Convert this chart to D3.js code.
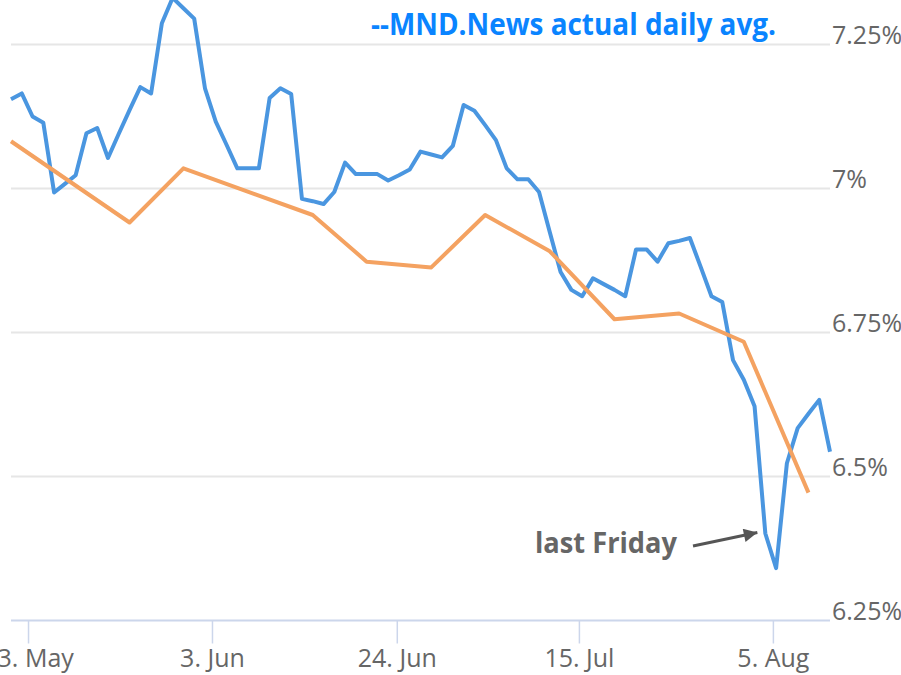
<!DOCTYPE html>
<html>
<head>
<meta charset="utf-8">
<script src="https://cdn.jsdelivr.net/npm/d3@7"></script>
<style>
  body { margin: 0; background: #fff; }
  svg { display: block; }
</style>
</head>
<body>
<div id="chart"></div>
<script>
/* global d3 */
// daily avg (blue), one value per business day, left to right
const dailyRates = [
  7.155, 7.165, 7.125, 7.114, 6.993, 7.008, 7.023, 7.096, 7.105, 7.053,
  7.095, 7.136, 7.176, 7.165, 7.287, 7.331, 7.313, 7.295, 7.174, 7.116,
  7.076, 7.035, 7.035, 7.035, 7.157, 7.174, 7.164, 6.982, 6.978, 6.973,
  6.994, 7.045, 7.025, 7.025, 7.025, 7.014, 7.023, 7.033, 7.064, 7.059,
  7.054, 7.074, 7.145, 7.135, 7.110, 7.084, 7.035, 7.016, 7.016, 6.994,
  6.924, 6.855, 6.824, 6.813, 6.844, 6.834, 6.824, 6.813, 6.894, 6.894,
  6.873, 6.905, 6.909, 6.914, 6.864, 6.813, 6.803, 6.702, 6.668, 6.622,
  6.401, 6.341, 6.523, 6.584, 6.609, 6.633, 6.543
];
// weekly survey (orange): position on the same day index + value
const weeklyIdx = [0, 11, 16, 28, 33, 39, 44, 50, 56, 62, 68, 74];
const weeklyRates = [7.082, 6.941, 7.035, 6.954, 6.873, 6.863, 6.954, 6.891, 6.773, 6.783, 6.734, 6.472];

const xTickIdx = [1.58, 18.65, 35.8, 52.7, 70.7];
const xTickLabels = ["13. May", "3. Jun", "24. Jun", "15. Jul", "5. Aug"];
const yTicks = [6.25, 6.5, 6.75, 7, 7.25];

const titleText = "--MND.News actual daily avg.";
const noteText = "last Friday";
const noteIdx = 70;

let width = 901, height = 675;
let plot = {left: 11, right: 830, top: 44.5, bottom: 620.5};

let svg = d3.select("#chart").append("svg")
  .attr("width", width)
  .attr("height", height);

let x = d3.scaleLinear()
  .domain([0, dailyRates.length - 1])
  .range([plot.left, plot.right]);

let y = d3.scaleLinear()
  .domain([6.25, 7.25])
  .range([plot.bottom, plot.top]);

// gridlines
svg.append("g")
  .selectAll("line")
  .data(yTicks.filter(d => d > 6.25))
  .enter().append("line")
  .attr("x1", plot.left)
  .attr("x2", plot.right)
  .attr("y1", d => y(d))
  .attr("y2", d => y(d))
  .attr("stroke", "#e6e6e6")
  .attr("stroke-width", 2);

// y labels on the right, sitting on the gridline
svg.append("g")
  .selectAll("text")
  .data(yTicks)
  .enter().append("text")
  .attr("x", plot.right + 2)
  .attr("y", d => y(d) - 1)
  .attr("font-family", "'Open Sans', sans-serif")
  .attr("font-size", 25)
  .attr("fill", "#666")
  .text(d => `${d}%`);

// x axis
let xAxis = svg.append("g")
  .attr("transform", `translate(0,${plot.bottom})`)
  .call(d3.axisBottom(x)
    .tickValues(xTickIdx)
    .tickFormat((d, i) => xTickLabels[i])
    .tickSize(23)
    .tickPadding(6));
xAxis.select(".domain")
  .attr("d", `M${plot.left},0H${plot.right}`)
  .attr("stroke", "#ccd6eb")
  .attr("stroke-width", 2);
xAxis.selectAll(".tick line")
  .attr("stroke", "#ccd6eb")
  .attr("stroke-width", 1.5);
xAxis.selectAll(".tick text")
  .attr("font-family", "'Open Sans', sans-serif")
  .attr("font-size", 25)
  .attr("fill", "#666");

let line = d3.line()
  .x(d => x(d[0]))
  .y(d => y(d[1]));

svg.append("path")
  .datum(dailyRates.map((v, i) => [i, v]))
  .attr("d", line)
  .attr("fill", "none")
  .attr("stroke", "#4a96e0")
  .attr("stroke-width", 4)
  .attr("stroke-linejoin", "round");

svg.append("path")
  .datum(weeklyIdx.map((d, i) => [d, weeklyRates[i]]))
  .attr("d", line)
  .attr("fill", "none")
  .attr("stroke", "#f4a261")
  .attr("stroke-width", 4)
  .attr("stroke-linejoin", "round");

// title
svg.append("text")
  .attr("x", 371)
  .attr("y", 35)
  .attr("font-family", "'Open Sans', sans-serif")
  .attr("font-weight", "bold")
  .attr("font-size", 30)
  .attr("fill", "#0a84ff")
  .attr("textLength", 405)
  .attr("lengthAdjust", "spacingAndGlyphs")
  .text(titleText);

// annotation + arrow pointing at the dip
let tipX = x(noteIdx) - 8, tipY = y(dailyRates[noteIdx]) - 1;
svg.append("text")
  .attr("x", 535)
  .attr("y", 553)
  .attr("font-family", "'Open Sans', sans-serif")
  .attr("font-weight", "bold")
  .attr("font-size", 28)
  .attr("fill", "#666")
  .attr("textLength", 142)
  .attr("lengthAdjust", "spacingAndGlyphs")
  .text(noteText);

let defs = svg.append("defs");
defs.append("marker")
  .attr("id", "arrow")
  .attr("viewBox", "0 0 10 10")
  .attr("refX", 10)
  .attr("refY", 5)
  .attr("markerWidth", 5)
  .attr("markerHeight", 4.5)
  .attr("markerUnits", "strokeWidth")
  .attr("orient", "auto")
  .append("path")
  .attr("d", "M0,0L10,5L0,10z")
  .attr("fill", "#555");

svg.append("line")
  .attr("x1", 693)
  .attr("y1", 546)
  .attr("x2", tipX)
  .attr("y2", tipY)
  .attr("stroke", "#555")
  .attr("stroke-width", 3)
  .attr("marker-end", "url(#arrow)");
</script>
</body>
</html>
